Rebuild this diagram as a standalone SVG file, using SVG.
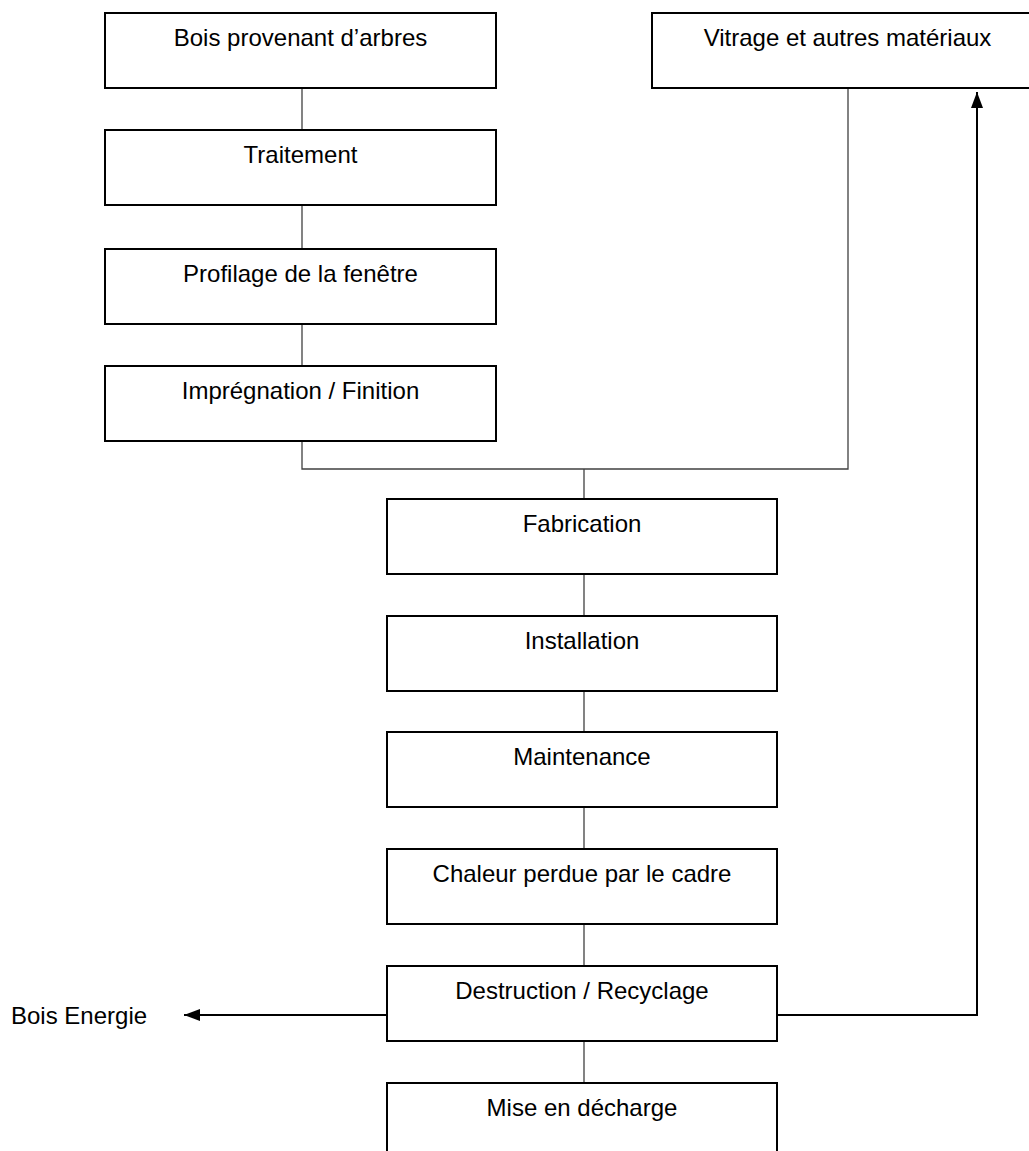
<svg xmlns="http://www.w3.org/2000/svg" width="1029" height="1151" viewBox="0 0 1029 1151">
<style>
.box{fill:#fff;stroke:#000;stroke-width:2}
.lbl{font-family:"Liberation Sans",Arial,sans-serif;font-size:24px;fill:#000;text-anchor:middle}
.free{font-family:"Liberation Sans",Arial,sans-serif;font-size:24px;fill:#000}
.link{fill:none;stroke:#404040;stroke-width:1.3}
.arr{fill:none;stroke:#000;stroke-width:2}
</style>
<defs>
<marker id="ah" markerUnits="userSpaceOnUse" markerWidth="18" markerHeight="12" refX="16" refY="6" orient="auto">
<path d="M0,0 L16,6 L0,12 Z" fill="#000"/>
</marker>
</defs>
<rect width="1029" height="1151" fill="#fff"/>
<g id="connectors">
<line class="link" x1="302" y1="88" x2="302" y2="130"/>
<line class="link" x1="302" y1="205" x2="302" y2="249"/>
<line class="link" x1="302" y1="324" x2="302" y2="366"/>
<polyline class="link" points="302,441 302,469 848,469 848,88"/>
<line class="link" x1="584" y1="469" x2="584" y2="499"/>
<line class="link" x1="584" y1="574" x2="584" y2="616"/>
<line class="link" x1="584" y1="691" x2="584" y2="732"/>
<line class="link" x1="584" y1="807" x2="584" y2="849"/>
<line class="link" x1="584" y1="924" x2="584" y2="966"/>
<line class="link" x1="584" y1="1041" x2="584" y2="1083"/>
<line class="arr" x1="387" y1="1015" x2="184" y2="1015" marker-end="url(#ah)"/>
<polyline class="arr" points="777,1015 977,1015 977,92" marker-end="url(#ah)"/>
</g>
<g id="n1"><rect class="box" x="105" y="13" width="391" height="75"/><text class="lbl" x="300.5" y="46">Bois provenant d’arbres</text></g>
<g id="n2"><rect class="box" x="652" y="13" width="391" height="75"/><text class="lbl" x="847.5" y="46">Vitrage et autres matériaux</text></g>
<g id="n3"><rect class="box" x="105" y="130" width="391" height="75"/><text class="lbl" x="300.5" y="163">Traitement</text></g>
<g id="n4"><rect class="box" x="105" y="249" width="391" height="75"/><text class="lbl" x="300.5" y="282">Profilage de la fenêtre</text></g>
<g id="n5"><rect class="box" x="105" y="366" width="391" height="75"/><text class="lbl" x="300.5" y="399">Imprégnation / Finition</text></g>
<g id="n6"><rect class="box" x="387" y="499" width="390" height="75"/><text class="lbl" x="582" y="532">Fabrication</text></g>
<g id="n7"><rect class="box" x="387" y="616" width="390" height="75"/><text class="lbl" x="582" y="649">Installation</text></g>
<g id="n8"><rect class="box" x="387" y="732" width="390" height="75"/><text class="lbl" x="582" y="765">Maintenance</text></g>
<g id="n9"><rect class="box" x="387" y="849" width="390" height="75"/><text class="lbl" x="582" y="882">Chaleur perdue par le cadre</text></g>
<g id="n10"><rect class="box" x="387" y="966" width="390" height="75"/><text class="lbl" x="582" y="999">Destruction / Recyclage</text></g>
<g id="n11"><rect class="box" x="387" y="1083" width="390" height="75"/><text class="lbl" x="582" y="1116">Mise en décharge</text></g>
<g id="n12"><text class="free" x="11" y="1024">Bois Energie</text></g>
</svg>
